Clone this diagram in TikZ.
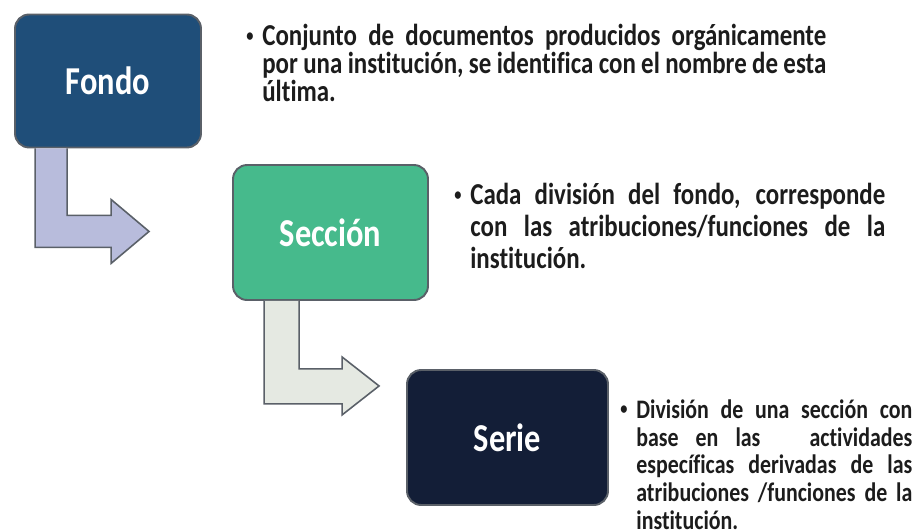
\documentclass[tikz,border=0pt]{standalone}
\usepackage{fontspec}
\setmainfont{Carlito}[FakeStretch=0.82,Ligatures=NoCommon]
\usepackage{tikz}

\definecolor{fondoblue}{HTML}{1F4E79}
\definecolor{seccgreen}{HTML}{46BA8C}
\definecolor{serienavy}{HTML}{131E37}
\definecolor{lavender}{HTML}{B8BCDC}
\definecolor{palegray}{HTML}{E5E9E2}
\definecolor{boxedge}{HTML}{5A6068}
\definecolor{inktext}{HTML}{1C1C1C}

\newcommand{\smalldot}{\llap{\raisebox{0.14em}{\fontsize{10}{10}\selectfont\textbullet}\hspace{5pt}}}

\begin{document}
\begin{tikzpicture}[x=0.02cm,y=-0.02cm,
	box/.style={draw=boxedge,line width=1.1pt,rounded corners=8pt,inner sep=0pt,text=white,
		font=\bfseries\fontsize{22.5}{24}\selectfont},
	bentarrow/.style={draw=boxedge,line width=0.9pt,line join=miter},
	desc/.style={anchor=north west,inner sep=0pt,align=justify,text=inktext}]
	\useasboundingbox (0,0) rectangle (915,530);

	%boxes
	\node[box,fill=fondoblue,minimum width=3.72cm,minimum height=2.66cm] (fondo) at (108,81) {Fondo};
	\node[box,fill=seccgreen,minimum width=3.9cm,minimum height=2.7cm] (seccion) at (330.5,232.5) {Sección};
	\node[box,fill=serienavy,minimum width=4.02cm,minimum height=2.7cm] (serie) at (507.5,437.5) {Serie};

	%bent arrows
	\filldraw[bentarrow,fill=lavender] (fondo.south west) ++(53,0) -- ++(0,67) -- ++(44,0) -- ++(0,-16)
		-- ++(38,32) -- ++(-38,32) -- ++(0,-16) -- ++(-76,0) -- ++(0,-99);
	\filldraw[bentarrow,fill=palegray] (seccion.south west) ++(67,0) -- ++(0,68) -- ++(43,0) -- ++(0,-12)
		-- ++(37,29) -- ++(-37,29) -- ++(0,-11) -- ++(-78,0) -- ++(0,-103);

	%descriptions
	\node[desc,text width=11.28cm,font=\bfseries\fontsize{17.3}{15.9}\selectfont] (descfondo) at (262,24)
		{\smalldot Conjunto de documentos producidos orgánicamente\linebreak
		por una institución, se identifica con el nombre de esta\linebreak última.};
	\node[desc,text width=8.3cm,font=\bfseries\fontsize{17.3}{18.2}\selectfont] (descseccion) at (470,183)
		{\smalldot Cada división del fondo, corresponde\linebreak
		con las atribuciones/funciones de la\linebreak institución.};
	\node[desc,text width=5.52cm,font=\bfseries\fontsize{15.2}{15.9}\selectfont] (descserie) at (636,399)
		{\smalldot División de una sección con\linebreak
		base en las\hspace{1.2em} actividades\linebreak
		específicas derivadas de las\linebreak
		atribuciones /funciones de la\linebreak institución.};
\end{tikzpicture}
\end{document}
